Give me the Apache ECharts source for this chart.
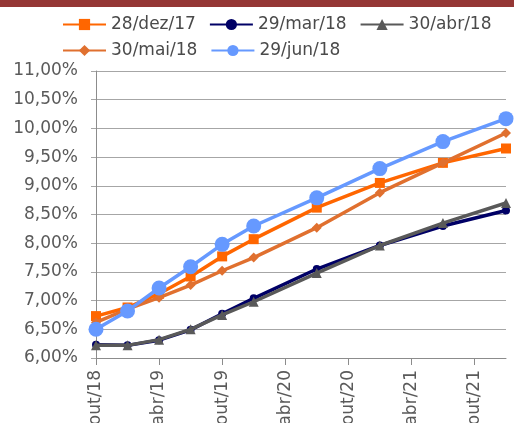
<!DOCTYPE html>
<html>
<head>
<meta charset="utf-8">
<script src="https://cdn.jsdelivr.net/npm/echarts@6/dist/echarts.min.js"></script>
<style>
html,body{margin:0;padding:0;background:#fff;}
#chart{width:514px;height:423px;}
</style>
</head>
<body>
<div id="chart"></div>
<script>
// Axis months (category axis, one per month from out/18 to jan/22)
const monthNames = ['jan','fev','mar','abr','mai','jun','jul','ago','set','out','nov','dez'];
const startMonth = 9, startYear = 18, monthCount = 40;
// Dates of the plotted points
const pointDates = ['out/18','jan/19','abr/19','jul/19','out/19','jan/20','jul/20','jan/21','jul/21','jan/22'];
// Series names
const seriesNames = ['28/dez/17','29/mar/18','30/abr/18','30/mai/18','29/jun/18'];
// Series values (%)
const dez17 = [6.73, 6.88, 7.12, 7.42, 7.77, 8.07, 8.62, 9.05, 9.40, 9.65];
const mar18 = [6.23, 6.22, 6.31, 6.49, 6.77, 7.04, 7.55, 7.96, 8.30, 8.57];
const abr18 = [6.22, 6.22, 6.32, 6.50, 6.75, 6.98, 7.48, 7.96, 8.35, 8.70];
const mai18 = [6.62, 6.85, 7.05, 7.27, 7.52, 7.75, 8.27, 8.88, 9.40, 9.92];
const jun18 = [6.50, 6.82, 7.22, 7.59, 7.98, 8.30, 8.79, 9.30, 9.77, 10.17];

const categories = [];
for (let i = 0; i < monthCount; i++) {
  const m = (startMonth + i) % 12;
  const y = startYear + Math.floor((startMonth + i) / 12);
  categories.push(monthNames[m] + '/' + y);
}

const colors = ['#FF6600', '#000066', '#595959', '#E0702F', '#6699FF'];
const symbols = ['rect', 'circle', 'triangle', 'diamond', 'circle'];
const symbolSizes = [10, 8, 10, 10, 15];
const values = [dez17, mar18, abr18, mai18, jun18];

const series = seriesNames.map((name, i) => ({
  name: name,
  type: 'line',
  data: pointDates.map((d, k) => [d, values[i][k]]),
  connectNulls: true,
  symbol: symbols[i],
  symbolSize: symbolSizes[i],
  showSymbol: true,
  showAllSymbol: true,
  lineStyle: { color: colors[i], width: 3.5 },
  itemStyle: { color: colors[i] },
  z: 2 + i,
  animation: false
}));

const font = 'DejaVu Sans';
const legendCommon = {
  orient: 'horizontal',
  left: 57,
  itemWidth: 43,
  itemHeight: 14,
  itemGap: 13,
  textStyle: { fontFamily: font, fontSize: 17, color: '#4a4a4a' },
  selectedMode: false
};

const chart = echarts.init(document.getElementById('chart'), null, { renderer: 'canvas' });
chart.setOption({
  animation: false,
  color: colors,
  graphic: [{
    type: 'rect',
    left: 0, top: 0,
    shape: { width: 514, height: 7 },
    style: { fill: '#953735' },
    silent: true
  }],
  legend: [
    Object.assign({}, legendCommon, { top: 11, data: seriesNames.slice(0, 3) }),
    Object.assign({}, legendCommon, { top: 37, data: seriesNames.slice(3) })
  ],
  grid: { left: 96, right: 8, top: 71, bottom: 65, containLabel: false, outerBoundsMode: 'none' },
  xAxis: {
    type: 'category',
    data: categories,
    boundaryGap: false,
    axisLine: { show: true, lineStyle: { color: '#8c8c8c', width: 1 } },
    axisTick: { show: true, interval: 5, length: 7, lineStyle: { color: '#8c8c8c' } },
    axisLabel: {
      interval: 5, rotate: 90, margin: 12,
      fontFamily: font, fontSize: 17, color: '#5a5a5a'
    },
    splitLine: { show: false }
  },
  yAxis: {
    type: 'value',
    min: 6, max: 11, interval: 0.5,
    axisLine: { show: true, lineStyle: { color: '#8c8c8c', width: 1 } },
    axisTick: { show: true, length: 5, lineStyle: { color: '#a6a6a6' } },
    axisLabel: {
      margin: 18,
      fontFamily: font, fontSize: 17, color: '#5a5a5a',
      formatter: v => v.toFixed(2).replace('.', ',') + '%'
    },
    splitLine: { show: true, lineStyle: { color: '#a6a6a6', width: 1 } }
  },
  series: series
});
</script>
</body>
</html>
